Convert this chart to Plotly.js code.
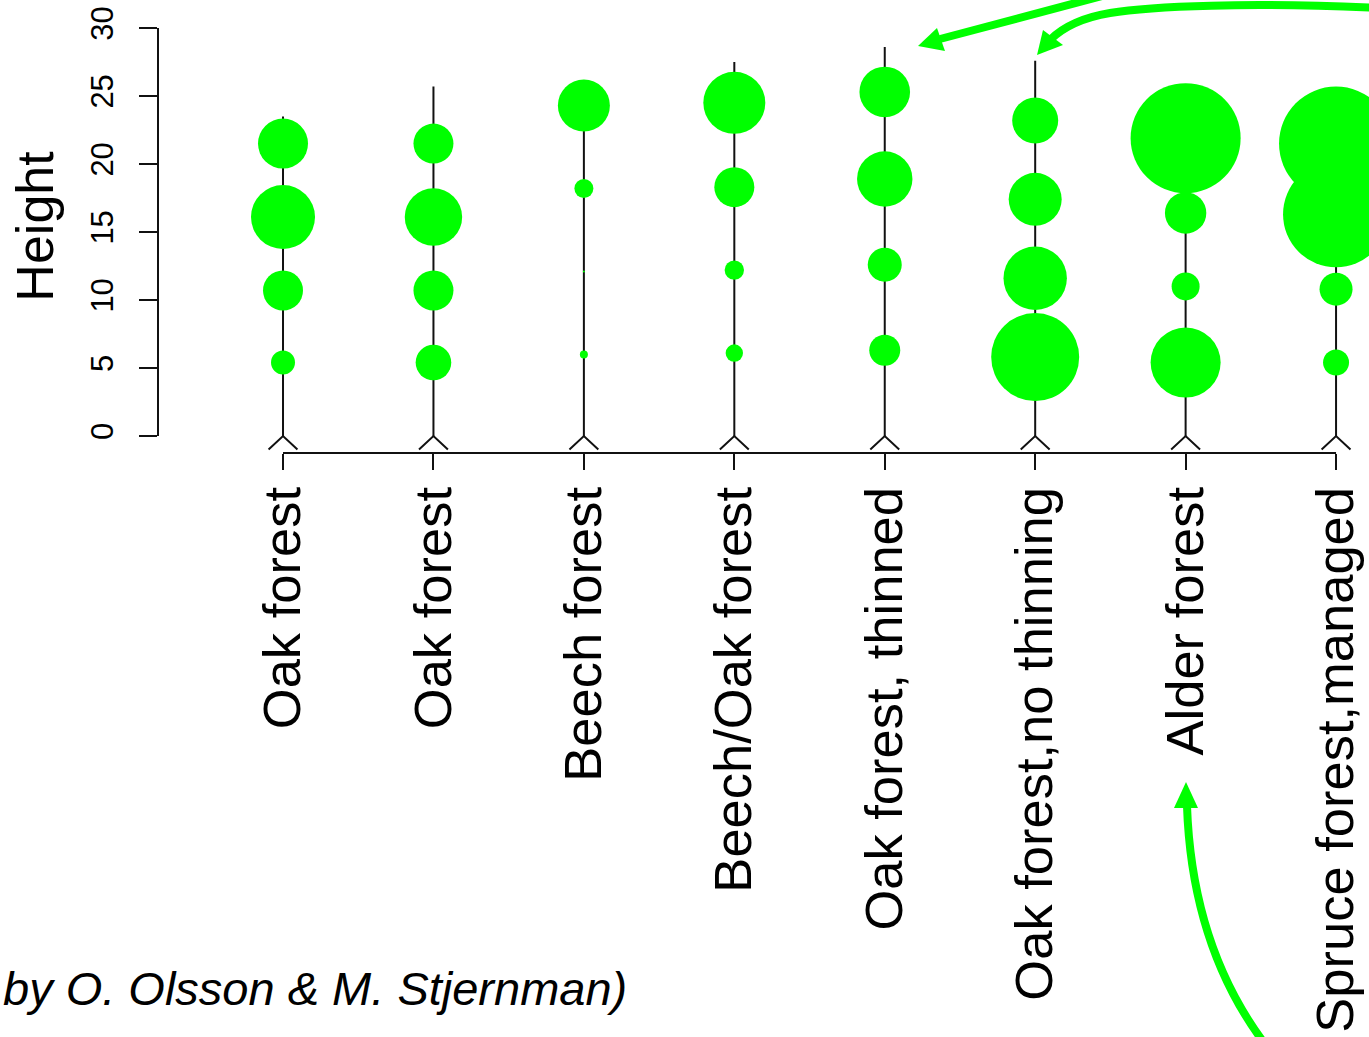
<!DOCTYPE html>
<html>
<head>
<meta charset="utf-8">
<script src="https://cdn.plot.ly/plotly-3.0.1.min.js"></script>
<style>
  html, body { margin: 0; padding: 0; background: #ffffff; }
  #chart { width: 1369px; height: 1037px; }
</style>
</head>
<body>
<div id="chart"></div>
<script>
// Forest stands, one "tree" per stand
const categories = [
  "Oak forest",
  "Oak forest",
  "Beech forest",
  "Beech/Oak forest",
  "Oak forest, thinned",
  "Oak forest,no thinning",
  "Alder forest",
  "Spruce forest,managed"
];

// Stand height (m): top of each stem
const standTop = [23.5, 25.7, 25.5, 27.5, 28.6, 27.6, 24.6, 24.0];

// Height (m) of the four vegetation layers, lowest to highest
const layer1Height = [5.4, 5.4, 6.0, 6.1, 6.3, 5.8, 5.4, 5.4];
const layer2Height = [10.7, 10.7, 12.1, 12.2, 12.6, 11.6, 11.0, 10.8];
const layer3Height = [16.1, 16.1, 18.2, 18.3, 18.9, 17.4, 16.4, 16.3];
const layer4Height = [21.5, 21.5, 24.3, 24.5, 25.3, 23.2, 21.9, 21.5];

// Foliage density of each layer (circle radius is proportional)
const layer1Density = [1.20, 1.78, 0.40, 0.87, 1.55, 4.40, 3.50, 1.30];
const layer2Density = [2.00, 2.00, 0.10, 0.97, 1.70, 3.17, 1.40, 1.65];
const layer3Density = [3.20, 2.87, 0.95, 2.00, 2.77, 2.65, 2.07, 5.30];
const layer4Density = [2.50, 2.00, 2.60, 3.10, 2.53, 2.30, 5.50, 5.70];

// Height axis ticks
const heightTicks = [0, 5, 10, 15, 20, 25, 30];

const credit = "by O. Olsson &amp; M. Stjernman)";

// ---------------------------------------------------------------
const W = 1369, H = 1037;
const GREEN = "#00ff00";
const INK = "#111111";
const FONT = "Liberation Sans, Arial, Helvetica, sans-serif";
const RADIUS_PX_PER_UNIT = 10;   // circle radius in px per density unit

const xs = categories.map((_, i) => i + 1);

// stems
const stemX = [], stemY = [];
xs.forEach((x, i) => { stemX.push(x, x, null); stemY.push(0, standTop[i], null); });

// little splayed feet at ground level
const footHalfWidth = 0.096, footDrop = 1.0;
const footX = [], footY = [];
xs.forEach(x => {
  footX.push(x - footHalfWidth, x, x + footHalfWidth, null);
  footY.push(-footDrop, 0, -footDrop, null);
});

const traces = [
  { type: "scatter", mode: "lines", x: stemX, y: stemY, hoverinfo: "skip",
    line: { color: INK, width: 2 }, showlegend: false, cliponaxis: false },
  { type: "scatter", mode: "lines", x: footX, y: footY, hoverinfo: "skip",
    line: { color: INK, width: 2 }, showlegend: false, cliponaxis: false }
];

const layers = [
  [layer1Height, layer1Density],
  [layer2Height, layer2Density],
  [layer3Height, layer3Density],
  [layer4Height, layer4Density]
];
layers.forEach(([h, d], k) => {
  traces.push({
    type: "scatter", mode: "markers", name: "Layer " + (k + 1),
    x: xs, y: h, showlegend: false, cliponaxis: false,
    marker: {
      color: GREEN, opacity: 1, sizemode: "diameter",
      size: d.map(v => 2 * v * RADIUS_PX_PER_UNIT),
      line: { width: 0 }
    }
  });
});

// pixel helpers for the pointer arrows (figure has zero margins)
const PX = x => x / W;
const PY = y => 1 - y / H;
function pathOf(cmds) {
  return cmds.map(c => {
    const [op, ...pts] = c;
    const out = [];
    for (let i = 0; i < pts.length; i += 2) out.push(PX(pts[i]).toFixed(5) + "," + PY(pts[i + 1]).toFixed(5));
    return op + out.join(" ");
  }).join(" ");
}
function shaft(cmds) {
  return { type: "path", xref: "paper", yref: "paper", path: pathOf(cmds),
           line: { color: GREEN, width: 8 }, fillcolor: "rgba(0,0,0,0)", layer: "above" };
}
function head(tip, c1, c2) {
  return { type: "path", xref: "paper", yref: "paper",
           path: pathOf([["M", ...tip], ["L", ...c1], ["L", ...c2], ["Z"]]),
           line: { width: 0 }, fillcolor: GREEN, layer: "above" };
}

const shapes = [
  // axes drawn like base graphics: the lines span only the tick range
  { type: "line", xref: "x", yref: "y domain", x0: 1, x1: 8, y0: 0, y1: 0,
    line: { color: INK, width: 2 } },
  { type: "line", xref: "x domain", yref: "y", x0: 0, x1: 0, y0: 0, y1: 30,
    line: { color: INK, width: 2 } },

  // pointer arrows
  shaft([["M", 1102, -4], ["L", 940, 39]]),
  head([918, 46], [937, 28], [945, 51]),

  shaft([["M", 1380, 8], ["C", 1250, 2, 1150, 6, 1110, 13], ["C", 1080, 18, 1062, 28, 1050, 40]]),
  head([1037, 55], [1043, 30], [1063, 45]),

  shaft([["M", 1268, 1048], ["Q", 1192, 950, 1187, 806]]),
  head([1186, 782], [1174, 808], [1198, 808])
];

const layout = {
  width: W, height: H,
  margin: { l: 0, r: 0, t: 0, b: 0, pad: 0 },
  paper_bgcolor: "#ffffff", plot_bgcolor: "#ffffff",
  showlegend: false,
  font: { family: FONT, color: "#000000" },
  xaxis: {
    domain: [158 / W, 1],
    range: [0.169, 8.219],
    showgrid: false, zeroline: false, showline: false,
    tickmode: "array", tickvals: xs, ticktext: categories,
    tickangle: -90,
    ticks: "outside", ticklen: 16, tickwidth: 2, tickcolor: INK,
    tickfont: { family: FONT, size: 52.5, color: "#000000" },
    ticklabelstandoff: -4,
    automargin: false, fixedrange: true
  },
  yaxis: {
    domain: [1 - 453 / H, 1],
    range: [-1.25, 32.06],
    showgrid: false, zeroline: false, showline: false,
    tickmode: "array", tickvals: heightTicks, ticktext: heightTicks.map(String),
    tickangle: -90,
    ticks: "outside", ticklen: 18, tickwidth: 2, tickcolor: INK,
    tickfont: { family: FONT, size: 31, color: "#000000" },
    ticklabelstandoff: 14,
    title: { text: "Height", font: { family: FONT, size: 52, color: "#000000" }, standoff: 14 },
    automargin: false, fixedrange: true
  },
  shapes: shapes,
  annotations: [{
    xref: "paper", yref: "paper", x: PX(629), y: PY(988),
    xanchor: "right", yanchor: "middle", showarrow: false,
    text: "<i>" + credit + "</i>",
    font: { family: FONT, size: 47, color: "#000000" }
  }]
};

Plotly.newPlot("chart", traces, layout, { staticPlot: true, displayModeBar: false });
</script>
</body>
</html>
